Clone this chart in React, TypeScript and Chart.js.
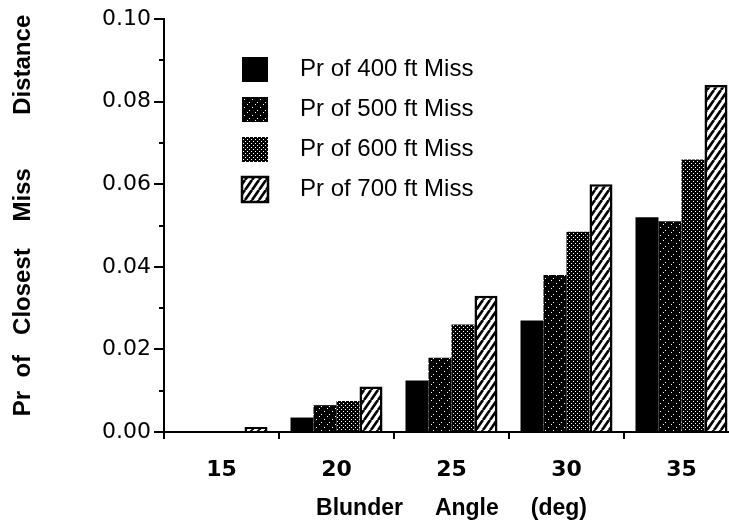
import React, { useEffect, useRef } from 'react';
import { Chart, registerables } from 'chart.js';

Chart.register(...registerables);

// ---- data ----
const ANGLES = ['15', '20', '25', '30', '35'];
const MISS_400 = [0, 0.0035, 0.0125, 0.027, 0.052];
const MISS_500 = [0, 0.0065, 0.018, 0.038, 0.051];
const MISS_600 = [0, 0.0075, 0.026, 0.0485, 0.066];
const MISS_700 = [0.0012, 0.011, 0.033, 0.06, 0.084];
const SERIES_LABELS = ['Pr of 400 ft Miss', 'Pr of 500 ft Miss', 'Pr of 600 ft Miss', 'Pr of 700 ft Miss'];
const Y_MIN = 0;
const Y_MAX = 0.1;
const Y_MAJOR_STEP = 0.02;
const Y_MINOR_TICKS = [0.01, 0.03, 0.05, 0.07, 0.09];
const X_TITLE = 'Blunder     Angle     (deg)';
const Y_TITLE = '   Pr  of   Closest    Miss        Distance';

function makePattern(kind: string): CanvasPattern | string {
  const c = document.createElement('canvas');
  const ctx = c.getContext('2d');
  if (!ctx) return '#000';
  if (kind === 'dash') {
    c.width = 8; c.height = 8;
    ctx.fillStyle = '#000'; ctx.fillRect(0, 0, 8, 8);
    ctx.fillStyle = '#fff';
    [[1, 6], [4, 3], [7, 0]].forEach(([x, y]) => ctx.fillRect(x, y, 1, 1));
  } else if (kind === 'dots') {
    c.width = 4; c.height = 4;
    ctx.fillStyle = '#000'; ctx.fillRect(0, 0, 4, 4);
    ctx.fillStyle = '#fff';
    ctx.fillRect(1, 1, 1, 1);
    ctx.fillRect(3, 3, 1, 1);
  } else {
    const w = 7;
    const h = 10;
    c.width = w; c.height = h;
    ctx.fillStyle = '#fff'; ctx.fillRect(0, 0, w, h);
    ctx.strokeStyle = '#000';
    ctx.lineWidth = 2.7;
    ctx.beginPath();
    for (let k = -1; k <= 1; k++) {
      ctx.moveTo(k * w, h);
      ctx.lineTo(k * w + w, 0);
    }
    ctx.stroke();
  }
  const p = ctx.createPattern(c, 'repeat');
  return p || '#000';
}

const legendPlace = {
  id: 'legendPlace',
  afterLayout(chart: any) {
    const lg = chart.legend;
    const ca = chart.chartArea;
    if (!lg || !ca) return;
    const w = lg.width;
    lg.left = ca.left + 63;
    lg.top = ca.top + 23;
    lg.right = lg.left + w;
    lg.bottom = ca.bottom;
  },
};

const minorTicks = {
  id: 'minorTicks',
  afterDraw(chart: any) {
    const y = chart.scales.y;
    if (!y) return;
    const ctx = chart.ctx;
    ctx.save();
    ctx.strokeStyle = '#000';
    ctx.lineWidth = 2;
    ctx.beginPath();
    Y_MINOR_TICKS.forEach((v) => {
      const py = Math.round(y.getPixelForValue(v));
      ctx.moveTo(y.right - 5, py);
      ctx.lineTo(y.right, py);
    });
    ctx.stroke();
    ctx.restore();
  },
};

export default function App() {
  const ref = useRef<HTMLCanvasElement | null>(null);

  useEffect(() => {
    const canvas = ref.current;
    if (!canvas) return;
    const fills = ['#000', makePattern('dash'), makePattern('dots'), makePattern('stripes')];
    const series = [MISS_400, MISS_500, MISS_600, MISS_700];
    const chart = new Chart(canvas, {
      type: 'bar',
      data: {
        labels: ANGLES,
        datasets: series.map((d, i) => ({
          label: SERIES_LABELS[i],
          data: d,
          backgroundColor: fills[i] as any,
          borderColor: '#000',
          borderWidth: i === 3 ? 2.5 : 0,
          categoryPercentage: 0.8,
          barPercentage: 1.0,
        })),
      },
      options: {
        responsive: false,
        maintainAspectRatio: false,
        animation: false,
        devicePixelRatio: 1,
        layout: { padding: { top: 19, right: 3, bottom: 0, left: 0 } },
        plugins: {
          tooltip: { enabled: false },
          legend: {
            position: 'chartArea',
            align: 'start',
            labels: {
              color: '#000',
              font: { family: 'Liberation Sans', size: 24 },
              boxWidth: 26,
              boxHeight: 25,
              padding: 15,
              generateLabels: (c: any) =>
                (Chart.defaults.plugins.legend.labels as any)
                  .generateLabels(c)
                  .map((l: any) => ({ ...l, text: '   ' + l.text })),
            },
          },
        },
        scales: {
          x: {
            type: 'category',
            offset: true,
            afterFit: (scale: any) => { scale.height = 97; },
            border: { display: true, color: '#000', width: 2 },
            grid: {
              offset: true,
              drawOnChartArea: false,
              drawTicks: true,
              tickLength: 7,
              color: '#000',
              lineWidth: 2,
            },
            ticks: {
              color: '#000',
              padding: 18,
              font: { family: 'DejaVu Sans', weight: 'bold', size: 22 },
            },
            title: {
              display: true,
              text: X_TITLE,
              color: '#000',
              font: { family: 'Liberation Sans', weight: 'bold', size: 23 },
              padding: { top: 0, bottom: 7 },
            },
          },
          y: {
            min: Y_MIN,
            max: Y_MAX,
            afterFit: (scale: any) => { scale.width = 164; },
            border: { display: true, color: '#000', width: 2 },
            grid: {
              drawOnChartArea: false,
              drawTicks: true,
              tickLength: 10,
              color: '#000',
              lineWidth: 2,
            },
            ticks: {
              stepSize: Y_MAJOR_STEP,
              color: '#000',
              padding: 3,
              font: { family: 'DejaVu Sans', size: 22 },
              callback: (v: any) => Number(v).toFixed(2),
            },
            title: {
              display: true,
              text: Y_TITLE,
              color: '#000',
              font: { family: 'Liberation Sans', weight: 'bold', size: 24 },
              padding: { top: 9, bottom: 0 },
            },
          },
        },
      },
      plugins: [legendPlace, minorTicks],
    });
    return () => chart.destroy();
  }, []);

  return (
    <div style={{ position: 'fixed', left: 0, top: 0, width: 729, height: 529, overflow: 'hidden', background: '#fff' }}>
      <canvas ref={ref} width={742} height={529} style={{ display: 'block', width: 742, height: 529 }} />
    </div>
  );
}
